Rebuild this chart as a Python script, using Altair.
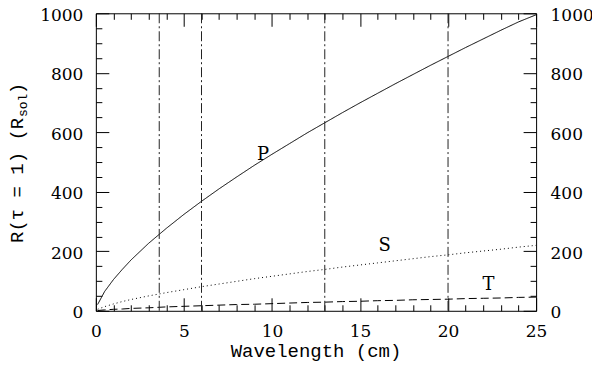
import altair as alt
import pandas as pd

# Data
wavelength = [0.1, 0.5, 1, 1.5, 2, 3, 4, 5, 6, 7, 8, 9, 10, 11, 12, 13, 14,
              15, 16, 17, 18, 19, 20, 21, 22, 23, 24, 25]
p_values = [21, 65, 105, 139, 171, 227, 277, 324, 368, 410, 450, 489, 526, 562,
            598, 632, 666, 699, 731, 763, 794, 825, 855, 885, 914, 943, 971, 995]
s_values = [5, 14, 23, 31, 38, 50, 61, 71, 81, 90, 99, 108, 116, 124, 132, 139,
            147, 154, 161, 168, 175, 182, 188, 195, 201, 207, 214, 220]
t_values = [1, 3, 5, 6, 8, 10, 13, 15, 17, 19, 21, 22, 24, 26, 28, 29, 31, 32,
            34, 35, 37, 38, 39, 41, 42, 43, 45, 46]

marker_lines = [3.6, 6, 13, 20]

curve_labels = ["P", "S", "T"]
curve_label_x = [9.5, 16.4, 22.3]
curve_label_y = [525, 218, 88]

x_major = [0, 5, 10, 15, 20, 25]
x_minor = [1, 2, 3, 4, 6, 7, 8, 9, 11, 12, 13, 14, 16, 17, 18, 19, 21, 22, 23, 24]
y_major = [0, 200, 400, 600, 800, 1000]
y_minor = [50, 100, 150, 250, 300, 350, 450, 500, 550, 650, 700, 750, 850, 900, 950]

x_title = "Wavelength (cm)"
y_title_main = "R(τ = 1) (R"
y_title_sub = "sol"
y_title_end = ")"

W, H = 441, 298
MAJ, MIN = 13, 6
LABEL_FONT = "DejaVu Serif"
TITLE_FONT = "Liberation Mono"


def fl(values):
    return [float(v) for v in values]


xs = alt.Scale(domain=[0, 25], nice=False, zero=False)
ys = alt.Scale(domain=[0, 1000], nice=False, zero=False)

label_style = dict(ticks=False, tickSize=0, domain=False, grid=False, title=None,
                   labelFont=LABEL_FONT, labelFontSize=17, labelColor="black",
                   labelFlush=False, format="d")


def tick_grid(values, length, span):
    # grid line dashed so that only a short piece shows at each end: inward ticks
    return alt.Axis(values=values, labels=False, ticks=False, domain=False,
                    grid=True, gridColor="black", gridOpacity=1, gridWidth=1,
                    gridDash=[length, span - 2 * length, length, 4000], title=None)


def curve(values, dash, x_axis=None, y_axis=None):
    df = pd.DataFrame({"wl": fl(wavelength), "r": fl(values)})
    return alt.Chart(df).mark_line(color="black", strokeWidth=1, strokeDash=dash).encode(
        x=alt.X("wl:Q", scale=xs, axis=x_axis),
        y=alt.Y("r:Q", scale=ys, axis=y_axis),
    )


line_p = curve(p_values, [1, 0],
               x_axis=alt.Axis(values=x_major, labelPadding=13, **label_style),
               y_axis=alt.Axis(values=y_major, labelPadding=13, labelOffset=2, **label_style))
line_s = curve(s_values, [1, 3],
               x_axis=tick_grid(x_major, MAJ, H), y_axis=tick_grid(y_major, MAJ, W))
line_t = curve(t_values, [8, 4],
               x_axis=tick_grid(x_minor, MIN, H), y_axis=tick_grid(y_minor, MIN, W))

vlines = alt.Chart(pd.DataFrame({"m": fl(marker_lines)})).mark_rule(
    color="#222", strokeWidth=1, strokeDash=[10, 3, 2, 3]
).encode(x=alt.X("m:Q", scale=xs, axis=None))

right_axis = alt.Axis(orient="right", values=y_major, labelPadding=14,
                      labelOffset=2, **label_style)

labels_df = pd.DataFrame({"lab": curve_labels, "lx": fl(curve_label_x), "ly": fl(curve_label_y)})
curve_text = alt.Chart(labels_df).mark_text(
    font=LABEL_FONT, fontSize=18, color="black", baseline="middle", align="center"
).encode(
    x=alt.X("lx:Q", scale=xs, axis=None),
    y=alt.Y("ly:Q", scale=ys, axis=right_axis),
    text="lab:N",
)

xtitle = alt.Chart(pd.DataFrame({"t": [x_title]})).mark_text(
    font=TITLE_FONT, fontSize=19, color="black", align="center", baseline="alphabetic"
).encode(text="t:N", x=alt.value(W / 2), y=alt.value(344))

yt1 = alt.Chart(pd.DataFrame({"t": [y_title_main]})).mark_text(
    font=TITLE_FONT, fontSize=19, color="black", align="left", baseline="middle", angle=270
).encode(text="t:N", x=alt.value(-79), y=alt.value(230))
yt2 = alt.Chart(pd.DataFrame({"t": [y_title_sub]})).mark_text(
    font=TITLE_FONT, fontSize=13, color="black", align="left", baseline="middle", angle=270
).encode(text="t:N", x=alt.value(-73), y=alt.value(104))
yt3 = alt.Chart(pd.DataFrame({"t": [y_title_end]})).mark_text(
    font=TITLE_FONT, fontSize=19, color="black", align="left", baseline="middle", angle=270
).encode(text="t:N", x=alt.value(-79), y=alt.value(81))

chart = alt.layer(
    line_p, line_s, line_t, vlines, curve_text, xtitle, yt1, yt2, yt3
).resolve_scale(x="independent", y="independent").properties(
    width=W, height=H,
    autosize=alt.AutoSizeParams(type="none"),
    padding={"left": 88, "top": 5, "right": 56, "bottom": 54},
    background="white",
).configure_view(stroke="black", strokeWidth=1)

chart.save("out.html", embed_options={"renderer": "svg", "actions": False})
